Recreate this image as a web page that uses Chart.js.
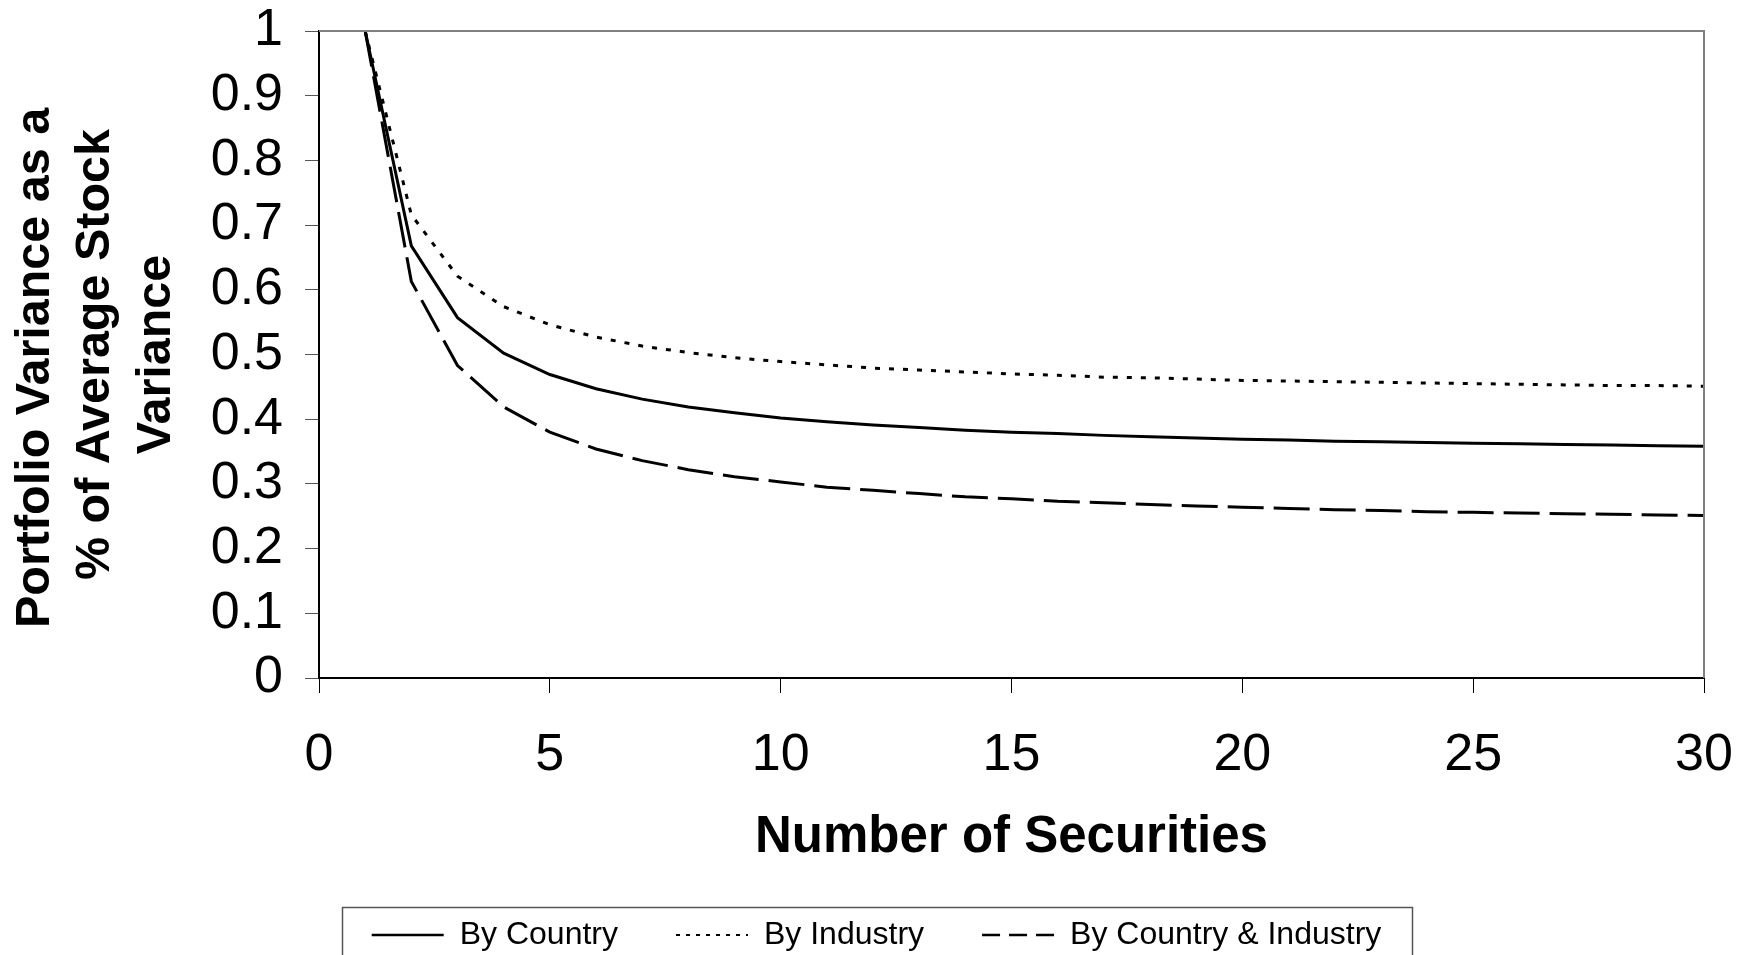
<!DOCTYPE html>
<html>
<head>
<meta charset="utf-8">
<script src="https://cdn.jsdelivr.net/npm/chart.js@4.4.0/dist/chart.umd.min.js"></script>
<style>
  html, body { margin: 0; padding: 0; background: #fff; overflow: hidden; }
  #wrap { width: 1738px; height: 955px; position: relative; overflow: hidden; }
</style>
</head>
<body>
<div id="wrap"><canvas id="chart" width="1738" height="961"></canvas></div>
<script>
// ===== DATA =====
const securities = [1, 2, 3, 4, 5, 6, 7, 8, 9, 10, 11, 12, 13, 14, 15,
  16, 17, 18, 19, 20, 21, 22, 23, 24, 25, 26, 27, 28, 29, 30];

const byCountry = [1, 0.668, 0.557, 0.502, 0.469, 0.447, 0.431, 0.419, 0.410, 0.402,
  0.396, 0.391, 0.387, 0.383, 0.380, 0.378, 0.375, 0.373, 0.371, 0.369,
  0.368, 0.366, 0.365, 0.364, 0.363, 0.362, 0.361, 0.360, 0.359, 0.358];

const byIndustry = [1, 0.716, 0.621, 0.574, 0.546, 0.527, 0.513, 0.503, 0.495, 0.489,
  0.484, 0.479, 0.476, 0.473, 0.470, 0.468, 0.465, 0.464, 0.462, 0.460,
  0.459, 0.458, 0.457, 0.456, 0.455, 0.454, 0.453, 0.452, 0.452, 0.451];

const byCountryIndustry = [1, 0.613, 0.483, 0.419, 0.380, 0.354, 0.336, 0.322, 0.311, 0.303,
  0.295, 0.290, 0.285, 0.280, 0.277, 0.273, 0.271, 0.268, 0.266, 0.264,
  0.262, 0.260, 0.259, 0.257, 0.256, 0.255, 0.254, 0.253, 0.252, 0.251];

const xTicks = [0, 5, 10, 15, 20, 25, 30];
const yTicks = [0, 0.1, 0.2, 0.3, 0.4, 0.5, 0.6, 0.7, 0.8, 0.9, 1];

const FONT = "'Liberation Sans', Arial, sans-serif";

function points(ys) {
  return securities.map((x, i) => ({ x: x, y: ys[i] }));
}

// gray frame on top/right of the plot + box around the legend
const framePlugin = {
  id: "frame",
  afterLayout(chart) {
    // nudge the legend row to the right, like the original
    chart.legend.left += 22;
    chart.legend.right += 22;
  },
  afterDraw(chart) {
    const ctx = chart.ctx;
    const a = chart.chartArea;
    ctx.save();
    ctx.strokeStyle = "#808080";
    ctx.lineWidth = 2;
    ctx.beginPath();
    ctx.moveTo(a.left, a.top);
    ctx.lineTo(a.right, a.top);
    ctx.lineTo(a.right, a.bottom);
    ctx.stroke();

    const lg = chart.legend;
    ctx.strokeStyle = "#555";
    ctx.lineWidth = 1.5;
    ctx.strokeRect(342.5, lg.top + 46.5, 1070, 80);
    ctx.restore();
  }
};

new Chart(document.getElementById("chart"), {
  type: "line",
  data: {
    datasets: [
      {
        label: "By Country",
        data: points(byCountry),
        borderColor: "#000",
        borderWidth: 3,
        pointRadius: 0
      },
      {
        label: "By Industry",
        data: points(byIndustry),
        borderColor: "#000",
        borderWidth: 3,
        borderDash: [5, 9],
        pointRadius: 0
      },
      {
        label: "By Country & Industry",
        data: points(byCountryIndustry),
        borderColor: "#000",
        borderWidth: 3,
        borderDash: [36, 10],
        pointRadius: 0
      }
    ]
  },
  options: {
    responsive: false,
    animation: false,
    devicePixelRatio: 1,
    layout: { padding: { left: 5, right: 34, top: 31, bottom: 0 } },
    plugins: {
      tooltip: { enabled: false },
      legend: {
        position: "bottom",
        labels: {
          color: "#000",
          font: { family: FONT, size: 32 },
          usePointStyle: true,
          pointStyle: "line",
          pointStyleWidth: 72,
          boxHeight: 32,
          padding: 58,
          generateLabels(chart) {
            return chart.data.datasets.map((ds, i) => ({
              text: ds.label,
              datasetIndex: i,
              strokeStyle: "#000",
              fillStyle: "#000",
              lineWidth: i === 1 ? 2 : 2.5,
              lineDash: i === 0 ? [] : (i === 1 ? [4, 6] : [18, 9]),
              pointStyle: "line",
              fontColor: "#000"
            }));
          }
        }
      }
    },
    scales: {
      x: {
        type: "linear",
        min: 0,
        max: 30,
        afterBuildTicks(scale) {
          scale.ticks = xTicks.map(v => ({ value: v }));
        },
        afterFit(scale) {
          scale.height = 183;
          scale.paddingLeft = 0;
          scale.paddingRight = 0;
        },
        border: { display: true, color: "#000", width: 2 },
        grid: { drawOnChartArea: false, drawTicks: true, tickLength: 15, color: "#000", lineWidth: 1 },
        ticks: {
          color: "#000",
          font: { family: FONT, size: 52 },
          padding: 31,
          maxRotation: 0,
          autoSkip: false
        },
        title: {
          display: true,
          text: "Number of Securities",
          color: "#000",
          font: { family: FONT, size: 51, weight: "bold", lineHeight: 1.2 },
          padding: { top: 0, bottom: -8 }
        }
      },
      y: {
        min: 0,
        max: 1,
        afterBuildTicks(scale) {
          scale.ticks = yTicks.map(v => ({ value: v }));
        },
        afterFit(scale) {
          scale.width = 314;
          scale.paddingTop = 0;
          scale.paddingBottom = 0;
        },
        border: { display: true, color: "#000", width: 2 },
        grid: { drawOnChartArea: false, drawTicks: true, tickLength: 14, color: "#555", lineWidth: 1 },
        ticks: {
          color: "#000",
          font: { family: FONT, size: 52 },
          padding: 22,
          autoSkip: false,
          callback: v => String(Math.round(v * 10) / 10)
        },
        title: {
          display: true,
          text: ["Portfolio Variance as a  ", "% of Average Stock", "Variance"],
          color: "#000",
          font: { family: FONT, size: 48.5, weight: "bold", lineHeight: 1.25 },
          padding: { top: 0, bottom: 0 }
        }
      }
    }
  },
  plugins: [framePlugin]
});
</script>
</body>
</html>
